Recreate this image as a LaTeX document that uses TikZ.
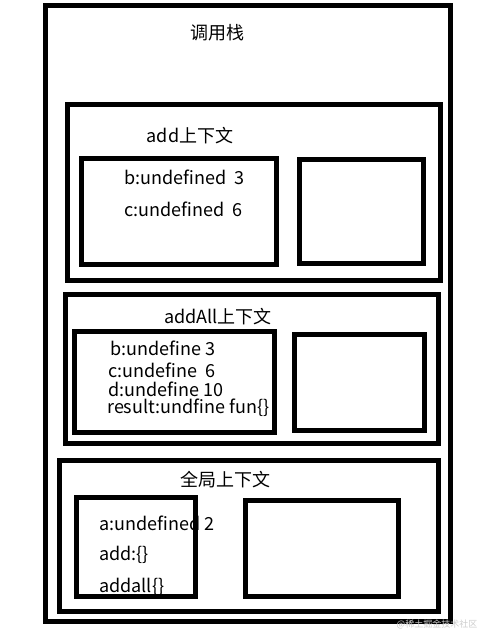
\documentclass[tikz,border=0pt]{standalone}
\usepackage{fontspec}
\setmainfont{Noto Sans CJK SC}
\begin{document}
\begin{tikzpicture}[x=1pt,y=-1pt,
  frame/.style={line width=5pt},
  label/.style={font=\fontsize{18}{20}\selectfont},
  var/.style={font=\fontsize{18}{20}\selectfont, anchor=west, inner sep=0pt}]

\useasboundingbox (0,0) rectangle (485,634);

\node [label] (stack) at (217,33) {调用栈};

% add
\node [label] (addctx) at (190,136) {add上下文};
\node [var] (addb) at (124,177) {b:undefined\ \ 3};
\node [var] (addc) at (124,209) {c:undefined\ \ 6};

% addAll
\node [label] (allctx) at (218,317) {addAll上下文};
\node [var] (allb) at (110,348) {b:undefine 3};
\node [var] (allc) at (108,370) {c:undefine\ \ 6};
\node [var] (alld) at (108,389) {d:undefine 10};
\node [var] (allr) at (107,408) {result:undfine fun\{\}};

% global
\node [label] (globctx) at (225,480) {全局上下文};
\node [var] (globa) at (99,523) {a:undefined 2};
\node [var] (globadd) at (99,555) {add:\{\}};
\node [var] (globall) at (99,587) {addall\{\}};

\draw [frame] (45.5,5.5) rectangle (450.5,621);

\draw [frame] (67,104) rectangle (440,280);
\draw [frame] (81,158) rectangle (276,264);
\draw [frame] (299,159) rectangle (423,263);

\draw [frame] (65,294) rectangle (438,443);
\draw [frame] (74,331) rectangle (274,432);
\draw [frame] (294,334) rectangle (424,430);

\draw [frame] (59,460) rectangle (438,611);
\draw [frame] (76,497) rectangle (195,596);
\draw [frame] (245,500) rectangle (398,596);

\node [font=\fontsize{9}{10}\selectfont, text=black!20] (mark) at (437,624) {@稀土掘金技术社区};

\end{tikzpicture}
\end{document}
